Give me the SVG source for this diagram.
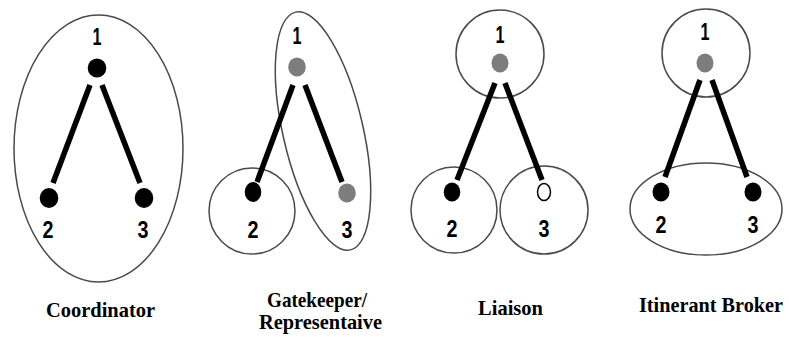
<svg xmlns="http://www.w3.org/2000/svg" width="789" height="337" viewBox="0 0 789 337">
  <style>
    .grp { fill: none; stroke: #4a4a4a; stroke-width: 1.5; }
    .edge { stroke: #000; stroke-width: 5.5; stroke-linecap: butt; }
    .blk { fill: #000; }
    .gry { fill: #7d7d7d; }
    .wht { fill: #fff; stroke: #000; stroke-width: 1.5; }
    .num { font-family: "Liberation Sans", Arial, sans-serif; font-weight: bold; font-size: 23px; fill: #000; text-anchor: middle; }
    .cap { font-family: "Liberation Serif", "Times New Roman", serif; font-weight: bold; font-size: 21px; fill: #000; text-anchor: middle; }
  </style>
  <rect width="789" height="337" fill="#fff"/>

  <!-- Group outlines -->
  <g id="groups">
    <ellipse class="grp" cx="98.5" cy="148.5" rx="84.5" ry="133.5"/>
    <ellipse class="grp" cx="323" cy="131" rx="40" ry="122" transform="rotate(-13 323 131)"/>
    <circle class="grp" cx="252" cy="211" r="43"/>
    <circle class="grp" cx="500" cy="54" r="44"/>
    <circle class="grp" cx="454" cy="210" r="43"/>
    <circle class="grp" cx="544" cy="210" r="44"/>
    <circle class="grp" cx="706" cy="53" r="44"/>
    <ellipse class="grp" cx="706" cy="209" rx="76" ry="46"/>
  </g>

  <!-- Connectors -->
  <g id="connectors">
    <line class="edge" x1="90" y1="85" x2="53" y2="183"/>
    <line class="edge" x1="102" y1="85" x2="140" y2="183"/>
    <line class="edge" x1="293" y1="85" x2="257" y2="182"/>
    <line class="edge" x1="305" y1="85" x2="342" y2="182"/>
    <line class="edge" x1="495" y1="83" x2="457" y2="180"/>
    <line class="edge" x1="505" y1="83" x2="542" y2="180"/>
    <line class="edge" x1="700" y1="80" x2="665" y2="177"/>
    <line class="edge" x1="712" y1="80" x2="747" y2="177"/>
  </g>

  <!-- Coordinator -->
  <g id="coord-1"><ellipse class="blk" cx="97" cy="68" rx="9.3" ry="9.5"/><text class="num" x="97" y="45" textLength="9" lengthAdjust="spacingAndGlyphs">1</text></g>
  <g id="coord-2"><ellipse class="blk" cx="49" cy="198" rx="9.3" ry="10"/><text class="num" x="48" y="238" textLength="11" lengthAdjust="spacingAndGlyphs">2</text></g>
  <g id="coord-3"><ellipse class="blk" cx="144" cy="198" rx="9.3" ry="10"/><text class="num" x="143" y="238" textLength="11" lengthAdjust="spacingAndGlyphs">3</text></g>

  <!-- Gatekeeper -->
  <g id="gate-1"><ellipse class="gry" cx="297" cy="67" rx="8.8" ry="9.5"/><text class="num" x="297" y="44" textLength="9" lengthAdjust="spacingAndGlyphs">1</text></g>
  <g id="gate-2"><ellipse class="blk" cx="253" cy="192" rx="8.3" ry="10"/><text class="num" x="253" y="238" textLength="11" lengthAdjust="spacingAndGlyphs">2</text></g>
  <g id="gate-3"><ellipse class="gry" cx="347" cy="193" rx="8.8" ry="9.5"/><text class="num" x="347" y="238" textLength="11" lengthAdjust="spacingAndGlyphs">3</text></g>

  <!-- Liaison -->
  <g id="liaison-1"><ellipse class="gry" cx="500" cy="63" rx="8.5" ry="9.5"/><text class="num" x="500" y="43" textLength="9" lengthAdjust="spacingAndGlyphs">1</text></g>
  <g id="liaison-2"><ellipse class="blk" cx="452" cy="192" rx="8.3" ry="9.5"/><text class="num" x="452" y="237" textLength="11" lengthAdjust="spacingAndGlyphs">2</text></g>
  <g id="liaison-3"><ellipse class="wht" cx="544" cy="192" rx="6.5" ry="8.5"/><text class="num" x="544" y="237" textLength="11" lengthAdjust="spacingAndGlyphs">3</text></g>

  <!-- Itinerant Broker -->
  <g id="itin-1"><ellipse class="gry" cx="705" cy="63" rx="8.5" ry="9.5"/><text class="num" x="705" y="40" textLength="9" lengthAdjust="spacingAndGlyphs">1</text></g>
  <g id="itin-2"><ellipse class="blk" cx="661" cy="192" rx="8.5" ry="9.5"/><text class="num" x="661" y="233" textLength="11" lengthAdjust="spacingAndGlyphs">2</text></g>
  <g id="itin-3"><ellipse class="blk" cx="753" cy="192" rx="8.5" ry="9.5"/><text class="num" x="753" y="233" textLength="11" lengthAdjust="spacingAndGlyphs">3</text></g>

  <!-- Captions -->
  <g id="captions">
    <text class="cap" x="100.5" y="317" textLength="109" lengthAdjust="spacingAndGlyphs">Coordinator</text>
    <text class="cap" x="317" y="307" textLength="100" lengthAdjust="spacingAndGlyphs">Gatekeeper/</text>
    <text class="cap" x="320.5" y="329" textLength="123" lengthAdjust="spacingAndGlyphs">Representaive</text>
    <text class="cap" x="510.5" y="315" textLength="65" lengthAdjust="spacingAndGlyphs">Liaison</text>
    <text class="cap" x="711" y="312" textLength="144" lengthAdjust="spacingAndGlyphs">Itinerant Broker</text>
  </g>
</svg>
